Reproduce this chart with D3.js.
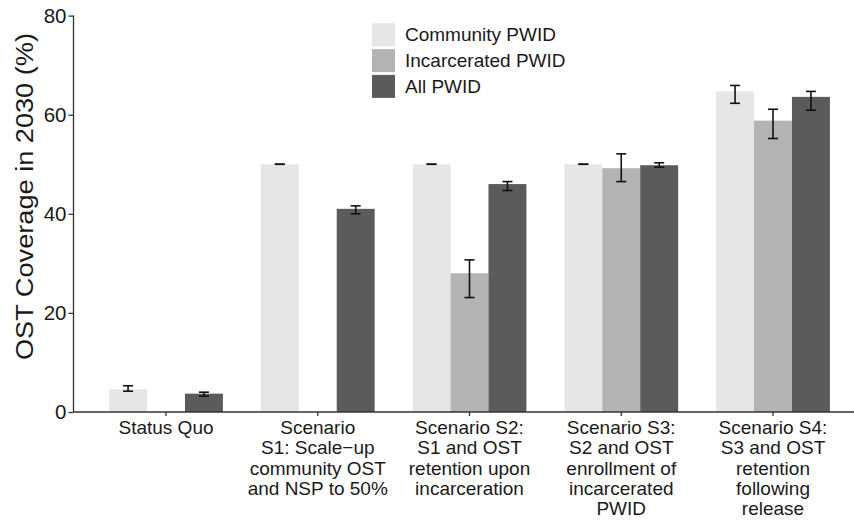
<!DOCTYPE html>
<html>
<head>
<meta charset="utf-8">
<script src="https://cdn.jsdelivr.net/npm/d3@7"></script>
<style>
  html, body { margin: 0; padding: 0; background: #fff; }
  svg { display: block; font-family: "Liberation Sans", Arial, Helvetica, sans-serif; }
</style>
</head>
<body>
<svg id="chart" width="854" height="523"></svg>
<script>
// Scenario groups (label lines drawn under each group)
const categories = ["SQ", "S1", "S2", "S3", "S4"];
const categoryLabels = [
  ["Status Quo"],
  ["Scenario", "S1: Scale\u2212up", "community OST", "and NSP to 50%"],
  ["Scenario S2:", "S1 and OST", "retention upon", "incarceration"],
  ["Scenario S3:", "S2 and OST", "enrollment of", "incarcerated", "PWID"],
  ["Scenario S4:", "S3 and OST", "retention", "following", "release"]
];

// Populations (legend order)
const series = ["Community PWID", "Incarcerated PWID", "All PWID"];
const seriesColors = ["#e5e6e5", "#b3b3b3", "#5a5c5b"];

// OST coverage in 2030 (%) — null where not modelled
const communityValues    = [4.6, 50.0, 50.0, 50.0, 64.7];
const incarceratedValues = [null, null, 28.0, 49.2, 58.8];
const allValues          = [3.7, 41.0, 46.0, 49.8, 63.6];

// Uncertainty intervals (lower, upper)
const communityLow     = [4.2, 50.0, 50.0, 50.0, 62.3];
const communityHigh    = [5.3, 50.0, 50.0, 50.0, 65.9];
const incarceratedLow  = [null, null, 23.1, 46.5, 55.2];
const incarceratedHigh = [null, null, 30.7, 52.1, 61.1];
const allLow           = [3.2, 40.0, 44.7, 49.4, 60.9];
const allHigh          = [4.0, 41.6, 46.5, 50.3, 64.7];

const yTicks = [0, 20, 40, 60, 80];

const valueSets = [communityValues, incarceratedValues, allValues];
const lowSets = [communityLow, incarceratedLow, allLow];
const highSets = [communityHigh, incarceratedHigh, allHigh];

const rows = [];
categories.forEach((c, ci) => {
  series.forEach((s, si) => {
    const v = valueSets[si][ci];
    if (v === null) return;
    rows.push({ cat: c, ser: s, value: v, low: lowSets[si][ci], high: highSets[si][ci] });
  });
});

const svg = d3.select("#chart");
const axisLeft = 73.5, axisBottom = 412;

const x = d3.scaleBand()
  .domain(categories)
  .range([74.95, 864.05])
  .paddingInner(0.25)
  .paddingOuter(0.225);

const xs = d3.scaleBand()
  .domain(series)
  .range([0, x.bandwidth()]);

const y = d3.scaleLinear()
  .domain([0, 80])
  .range([axisBottom, 15.6]);

const color = d3.scaleOrdinal().domain(series).range(seriesColors);

// Bars
svg.append("g").selectAll("rect")
  .data(rows)
  .join("rect")
  .attr("x", d => x(d.cat) + xs(d.ser))
  .attr("width", xs.bandwidth())
  .attr("y", d => y(d.value))
  .attr("height", d => y(0) - y(d.value))
  .attr("fill", d => color(d.ser));

// Error bars
const capHalf = 5;
const eg = svg.append("g").attr("stroke", "#111").attr("stroke-width", 1.6).attr("fill", "none");
rows.forEach(d => {
  const cx = x(d.cat) + xs(d.ser) + xs.bandwidth() / 2;
  eg.append("line").attr("x1", cx).attr("x2", cx).attr("y1", y(d.low)).attr("y2", y(d.high));
  eg.append("line").attr("x1", cx - capHalf).attr("x2", cx + capHalf).attr("y1", y(d.low)).attr("y2", y(d.low));
  eg.append("line").attr("x1", cx - capHalf).attr("x2", cx + capHalf).attr("y1", y(d.high)).attr("y2", y(d.high));
});

// Y axis
const yAxis = svg.append("g")
  .attr("transform", `translate(${axisLeft},0)`)
  .call(d3.axisLeft(y).tickValues(yTicks).tickSize(5).tickPadding(2));
yAxis.select(".domain").attr("stroke", "#333").attr("stroke-width", 1.3).attr("d", `M0,${y(80)}V${axisBottom}`);
yAxis.selectAll(".tick line").attr("stroke", "#333").attr("stroke-width", 1.3);
yAxis.selectAll(".tick text").attr("font-size", 20.5).attr("fill", "#1a1a1a").attr("font-family", "Liberation Sans, Arial, sans-serif");

// X axis
const xAxis = svg.append("g")
  .attr("transform", `translate(0,${axisBottom})`)
  .call(d3.axisBottom(x).tickSize(4).tickFormat(""));
xAxis.select(".domain").attr("stroke", "#333").attr("stroke-width", 1.3).attr("d", `M${axisLeft},0H854`);
xAxis.selectAll(".tick line").attr("stroke", "#333").attr("stroke-width", 1.3);

// Multi-line category labels
const lab = svg.append("g").attr("font-size", 19).attr("fill", "#1a1a1a").attr("text-anchor", "middle");
categories.forEach((c, ci) => {
  const cx = x(c) + x.bandwidth() / 2;
  const t = lab.append("text").attr("x", cx).attr("y", 434);
  categoryLabels[ci].forEach((line, li) => {
    t.append("tspan").attr("x", cx).attr("y", 434 + li * 20.3).text(line);
  });
});

// Y axis title
svg.append("text")
  .attr("transform", "translate(33,196.5) rotate(-90)")
  .attr("text-anchor", "middle")
  .attr("font-size", 23)
  .attr("fill", "#1a1a1a")
  .attr("textLength", 327)
  .attr("lengthAdjust", "spacingAndGlyphs")
  .text("OST Coverage in 2030 (%)");

// Legend
const legend = svg.append("g").attr("transform", "translate(372,23.3)");
series.forEach((s, i) => {
  const g = legend.append("g").attr("transform", `translate(0,${i * 25.8})`);
  g.append("rect").attr("width", 23).attr("height", 23).attr("fill", color(s));
  g.append("text").attr("x", 33).attr("y", 11.5).attr("dy", "0.35em")
    .attr("font-size", 19).attr("fill", "#1a1a1a").text(s);
});
</script>
</body>
</html>
